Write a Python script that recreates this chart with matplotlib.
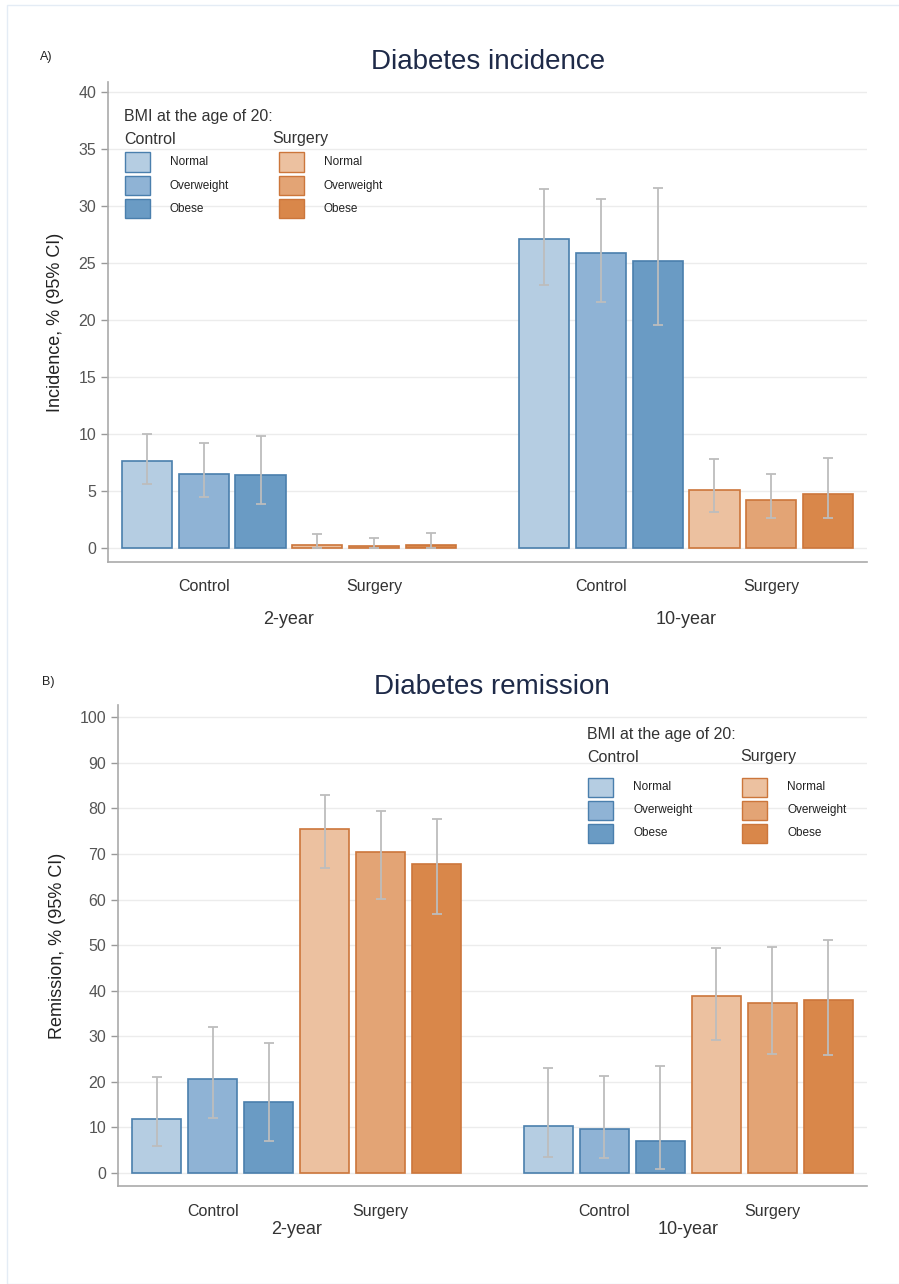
import matplotlib
matplotlib.use("Agg")
import matplotlib.pyplot as plt
import matplotlib.transforms as mtransforms
from matplotlib.patches import Rectangle
import numpy as np

plt.rcParams['font.family'] = ['Liberation Sans', 'DejaVu Sans']

# ---- data ----
periods = ['2-year', '10-year']
arms = ['Control', 'Surgery']
bmi_groups = ['Normal', 'Overweight', 'Obese']

# incidence (%), order: 2y control N/OW/OB, 2y surgery N/OW/OB, 10y control ..., 10y surgery ...
inc_val = [7.6, 6.5, 6.4, 0.3, 0.2, 0.25,
           27.1, 25.9, 25.2, 5.1, 4.2, 4.7]
inc_lo = [5.6, 4.5, 3.9, 0.0, 0.0, 0.0,
          23.1, 21.6, 19.6, 3.2, 2.6, 2.6]
inc_hi = [10.0, 9.2, 9.8, 1.25, 0.9, 1.35,
          31.5, 30.6, 31.6, 7.8, 6.5, 7.9]

# remission (%)
rem_val = [11.9, 20.6, 15.6, 75.5, 70.5, 67.8,
           10.4, 9.6, 7.1, 38.8, 37.4, 38.0]
rem_lo = [5.9, 12.1, 7.0, 67.0, 60.2, 56.8,
          3.5, 3.3, 0.9, 29.1, 26.2, 26.0]
rem_hi = [21.1, 32.0, 28.6, 83.0, 79.4, 77.6,
          23.0, 21.3, 23.4, 49.4, 49.6, 51.2]

ctrl_colors = ['#b5cde2', '#8fb3d5', '#6a9bc4']
surg_colors = ['#ecc1a0', '#e3a475', '#d9874a']
ctrl_edge = '#4a7fad'
surg_edge = '#cc763b'

W, H = 899, 1284
fig = plt.figure(figsize=(W / 100, H / 100), dpi=100)


def px_axes(l, t, r, b):
    return fig.add_axes([l / W, 1 - b / H, (r - l) / W, (b - t) / H])


def fig_xy(x, y):
    return x / W, 1 - y / H


# light frame around figure
fig.add_artist(Rectangle((7 / W, 0), 1, 1 - 5 / H, transform=fig.transFigure,
                         fill=False, edgecolor='#e4ecf5', linewidth=1))

positions = [0, 1, 2, 3, 4, 5, 7, 8, 9, 10, 11, 12]
colors = (ctrl_colors + surg_colors) * 2
edges = ([ctrl_edge] * 3 + [surg_edge] * 3) * 2


def draw_panel(ax, vals, lo, hi, ylim, yticks, ylabel, title, letter, letter_xy,
               title_xy, cat_off, year_off, leg_x, leg_y, row_offs, surg_dx):
    vals = np.array(vals)
    ax.bar(positions, vals, width=0.885, color=colors, edgecolor=edges,
           linewidth=1.2, zorder=3)
    err = np.vstack([vals - np.array(lo), np.array(hi) - vals])
    ax.errorbar(positions, vals, yerr=err, fmt='none', ecolor='#bdbdbd',
                elinewidth=1.3, capsize=3.6, capthick=1.3, zorder=4)
    ax.set_xlim(-0.69, 12.69)
    ax.set_ylim(*ylim)
    ax.set_yticks(yticks)
    ax.tick_params(axis='y', labelsize=11.5, labelcolor='#555555', color='#999999',
                   length=5, width=1)
    ax.yaxis.grid(True, color='#ececec', linewidth=1, zorder=0)
    ax.set_axisbelow(True)
    for s in ['top', 'right']:
        ax.spines[s].set_visible(False)
    for s in ['left', 'bottom']:
        ax.spines[s].set_color('#aaaaaa')
        ax.spines[s].set_linewidth(1.2)
    ax.set_xticks([1, 4, 8, 11])
    ax.set_xticklabels(arms * 2, fontsize=11.5, color='#333333')
    ax.tick_params(axis='x', length=0, pad=cat_off)
    trans = mtransforms.blended_transform_factory(ax.transData, ax.transAxes)
    ax_h_px = ax.get_position().height * H
    for cx, p in zip([2.5, 9.5], periods):
        ax.text(cx, -year_off / ax_h_px, p, transform=trans, ha='center', va='center',
                fontsize=13, color='#333333')
    ax.set_ylabel(ylabel, fontsize=13, color='#222222', labelpad=10)
    fig.text(*fig_xy(*title_xy), title, ha='center', va='center', fontsize=20,
             color='#1e2a48')
    fig.text(*fig_xy(*letter_xy), letter, ha='left', va='center', fontsize=9,
             color='#222222')

    # legend block
    fig.text(*fig_xy(leg_x, leg_y), 'BMI at the age of 20:', ha='left', va='center',
             fontsize=11.5, color='#333333')
    for j, (arm, cols, ec) in enumerate(zip(arms, [ctrl_colors, surg_colors],
                                            [ctrl_edge, surg_edge])):
        x0 = leg_x + j * 154
        fig.text(*fig_xy(leg_x + j * surg_dx, leg_y + 22), arm,
                 ha='left', va='center', fontsize=11.5, color='#333333')
        for k, (lab, c) in enumerate(zip(bmi_groups, cols)):
            yc = leg_y + row_offs[k]
            fx, fy = fig_xy(x0 + 1, yc + 9.5)
            fig.add_artist(Rectangle((fx, fy), 25 / W, 19 / H, transform=fig.transFigure,
                                     facecolor=c, edgecolor=ec, linewidth=1))
            fig.text(*fig_xy(x0 + 46, yc), lab, ha='left', va='center', fontsize=8.5,
                     color='#222222')


axA = px_axes(108, 82, 867, 562)
draw_panel(axA, inc_val, inc_lo, inc_hi, (-1.23, 40.9), range(0, 41, 5),
           'Incidence, % (95% CI)', 'Diabetes incidence', 'A)', (40, 57), (488, 62),
           12, 57, 124, 117, [45, 68.5, 91.5], 148)

axB = px_axes(118, 705, 867, 1186)
draw_panel(axB, rem_val, rem_lo, rem_hi, (-2.85, 102.7), range(0, 101, 10),
           'Remission, % (95% CI)', 'Diabetes remission', 'B)', (42, 682), (492, 687),
           13, 43, 587, 735, [52, 75, 98], 153)

fig.savefig('out.png', dpi=100, facecolor='white')
